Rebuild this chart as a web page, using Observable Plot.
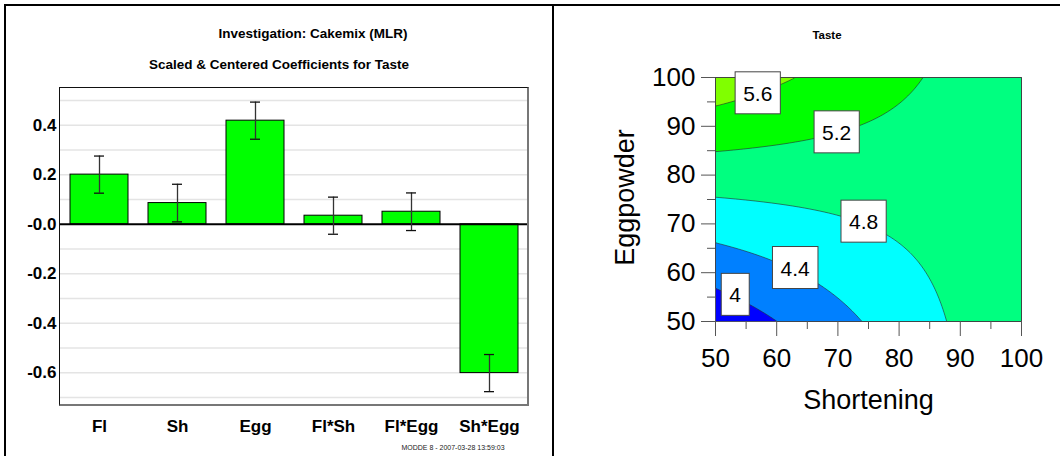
<!DOCTYPE html>
<html>
<head>
<meta charset="utf-8">
<script src="https://cdn.jsdelivr.net/npm/d3@7"></script>
<script src="https://cdn.jsdelivr.net/npm/@observablehq/plot@0.6"></script>
<style>
  body { margin: 0; background: #fff; }
  #page { position: relative; width: 1060px; height: 456px; overflow: hidden;
          font-family: "Liberation Sans", Arial, sans-serif; background: #fff; }
  .abs { position: absolute; }
  .line { position: absolute; background: #000; }
  .title { position: absolute; text-align: center; font-weight: bold; color: #000; white-space: nowrap; }
</style>
</head>
<body>
<div id="page">
  <div id="left" class="abs" style="left:0;top:0;width:552px;height:456px"></div>
  <div id="right" class="abs" style="left:554px;top:6px;width:506px;height:450px"></div>
  <div class="abs" style="left:59px;top:87px;width:470px;height:319px;box-sizing:border-box;border-top:1px solid #111;border-left:1px solid #111;border-right:2px solid #777;border-bottom:2px solid #777;pointer-events:none"></div>
  <div class="line" style="left:4px;top:4px;width:1056px;height:2px"></div>
  <div class="line" style="left:4px;top:4px;width:2px;height:452px"></div>
  <div class="line" style="left:552px;top:4px;width:2px;height:452px"></div>
  <div class="title" style="left:113px;width:400px;top:26px;font-size:13.5px;line-height:16px">Investigation: Cakemix (MLR)</div>
  <div class="title" style="left:79px;width:400px;top:57px;font-size:13.5px;line-height:16px">Scaled &amp; Centered Coefficients for Taste</div>
  <div class="title" style="left:353px;width:200px;top:444px;font-size:7px;line-height:8px;font-weight:normal;color:#222">MODDE 8 - 2007-03-28 13:59:03</div>
  <div class="title" style="left:727px;width:200px;top:28px;font-size:11.5px;line-height:14px">Taste</div>
</div>
<script>
// ---- Left panel: scaled & centered coefficients ----
const terms = ["Fl", "Sh", "Egg", "Fl*Sh", "Fl*Egg", "Sh*Egg"];
const coefficients = [0.201, 0.086, 0.419, 0.035, 0.051, -0.601];
const confInt = [0.075, 0.076, 0.075, 0.075, 0.076, 0.075];
const yTickValues = [-0.6, -0.4, -0.2, 0, 0.2, 0.4];
const yTickLabels = ["-0.6", "-0.4", "-0.2", "-0.0", "0.2", "0.4"];
const gridValues = [-0.7, -0.6, -0.5, -0.4, -0.3, -0.2, -0.1, 0.1, 0.2, 0.3, 0.4, 0.5];

// ---- Right panel: response contour for Taste ----
const contourLevels = [4, 4.4, 4.8, 5.2, 5.6];
const contourColors = ["#0000ff", "#0080ff", "#00ffff", "#00ff80", "#00ff00", "#80ff00"];
const labelText = ["5.6", "5.2", "4.8", "4.4", "4"];
const labelShortening = [56.9, 69.8, 74.2, 63.0, 53.2];
const labelEggpowder = [96.6, 88.6, 70.3, 60.8, 55.3];
const majorTicks = [50, 60, 70, 80, 90, 100];
const minorTicks = [55, 65, 75, 85, 95];
const intercept = 4.70;   // model constant (estimated)
const flourLevel = 1;     // Flour held at its high level (scaled)

const coefData = terms.map((t, i) => ({term: t, coef: coefficients[i], err: confInt[i]}));

const leftSvg = Plot.plot({
  width: 552, height: 456,
  marginLeft: 59, marginRight: 23, marginTop: 87, marginBottom: 50,
  style: {fontFamily: "'Liberation Sans', Arial, sans-serif", background: "transparent", color: "#000"},
  x: {domain: terms, paddingInner: 0.26, paddingOuter: 0.13, label: null},
  y: {domain: [-0.736, 0.553], label: null},
  marks: [
    Plot.ruleY(gridValues, {stroke: "#e4e4e4", strokeWidth: 1.5}),
    Plot.barY(coefData, {x: "term", y: "coef", fill: "#00ff00", stroke: "#000", strokeWidth: 1}),
    Plot.ruleY([0], {stroke: "#000", strokeWidth: 2}),
    Plot.ruleX(coefData, {x: "term", y1: d => d.coef - d.err, y2: d => d.coef + d.err, stroke: "#333", strokeWidth: 1.3}),
    Plot.tickY(coefData, {x: "term", y: d => d.coef - d.err, insetLeft: 24, insetRight: 24, stroke: "#111", strokeWidth: 1.3}),
    Plot.tickY(coefData, {x: "term", y: d => d.coef + d.err, insetLeft: 24, insetRight: 24, stroke: "#111", strokeWidth: 1.3}),
    Plot.axisY({ticks: yTickValues, tickFormat: d => yTickLabels[yTickValues.indexOf(d)], tickSize: 0, tickPadding: 3,
                fontSize: 17, fontWeight: "bold", label: null}),
    Plot.axisX({tickSize: 0, tickPadding: 13, fontSize: 17, fontWeight: "bold", label: null})
  ]
});
document.getElementById("left").append(leftSvg);

function tasteAt(sh, egg) {
  const s = (sh - 75) / 25, e = (egg - 75) / 25, f = flourLevel;
  const termValues = [f, s, e, f * s, f * e, s * e];
  return intercept + d3.sum(coefficients, (c, i) => c * termValues[i]);
}

const labelData = labelText.map((t, i) => ({label: t, x: labelShortening[i], y: labelEggpowder[i]}));

const rightSvg = Plot.plot({
  width: 506, height: 450,
  marginLeft: 161, marginRight: 39, marginTop: 71, marginBottom: 135,
  style: {fontFamily: "'Liberation Sans', Arial, sans-serif", background: "transparent", color: "#000"},
  x: {domain: [50, 100], label: null},
  y: {domain: [50, 100], label: null},
  color: {type: "threshold", domain: contourLevels, range: contourColors},
  marks: [
    Plot.frame({fill: contourColors[0]}),
    Plot.contour({x1: 50, x2: 100, y1: 50, y2: 100, fill: tasteAt, thresholds: contourLevels,
                  stroke: "#2a2a2a", strokeWidth: 0.6, pixelSize: 1}),
    Plot.frame({stroke: "#444", strokeWidth: 0.8}),
    Plot.axisX({ticks: majorTicks, tickSize: 15, tickPadding: 12, fontSize: 26, stroke: "#555", fill: "#000", label: null}),
    Plot.axisX({ticks: minorTicks, tickSize: 8, tickFormat: () => "", stroke: "#555", label: null}),
    Plot.axisY({ticks: majorTicks, tickSize: 14, tickPadding: 6, fontSize: 26, stroke: "#555", fill: "#000", label: null}),
    Plot.axisY({ticks: minorTicks, tickSize: 8, tickFormat: () => "", stroke: "#555", label: null}),
    Plot.text(["Shortening"], {frameAnchor: "bottom", text: d => d, dy: 79, lineAnchor: "middle", textAnchor: "middle", fontSize: 27, fill: "#000"}),
    Plot.text(["Eggpowder"], {frameAnchor: "left", text: d => d, dx: -90, dy: -2, rotate: -90, lineAnchor: "middle", textAnchor: "middle", fontSize: 27, fill: "#000"}),
    Plot.text(labelData, {x: "x", y: "y", text: "label", fontSize: 21, fill: "#000"})
  ]
});
document.getElementById("right").append(rightSvg);

// white boxes behind contour labels
const labelSet = new Set(labelText);
rightSvg.querySelectorAll("text").forEach(t => {
  if (!labelSet.has(t.textContent)) return;
  const g = t.parentNode;
  if (g.getAttribute("aria-label") && g.getAttribute("aria-label").includes("tick")) return;
  const b = t.getBBox();
  const r = document.createElementNS("http://www.w3.org/2000/svg", "rect");
  const cy = b.y + b.height / 2 - 0.5;
  r.setAttribute("x", b.x - 8);
  r.setAttribute("y", cy - 21);
  r.setAttribute("width", b.width + 16);
  r.setAttribute("height", 42);
  r.setAttribute("fill", "#fff");
  r.setAttribute("stroke", "#444");
  r.setAttribute("stroke-width", "1");
  const tr = t.getAttribute("transform");
  if (tr) r.setAttribute("transform", tr);
  g.insertBefore(r, t);
});
</script>
</body>
</html>
